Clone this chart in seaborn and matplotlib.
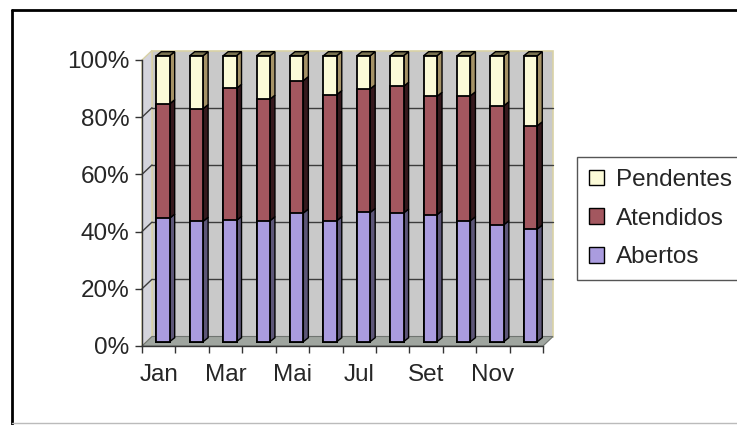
import numpy as np
import pandas as pd
import matplotlib
matplotlib.use("Agg")
import matplotlib.pyplot as plt
import matplotlib.transforms as mtransforms
from matplotlib.patches import Polygon, Patch
from matplotlib.lines import Line2D
import seaborn as sns

# Monthly share of requests by status (%)
meses = ["Jan", "Fev", "Mar", "Abr", "Mai", "Jun",
         "Jul", "Ago", "Set", "Out", "Nov", "Dez"]
abertos = [43.2, 42.1, 42.4, 42.3, 45.0, 42.3, 45.2, 45.0, 44.4, 42.3, 40.9, 39.4]
atendidos = [40.0, 39.4, 46.2, 42.5, 46.3, 44.1, 43.2, 44.3, 41.4, 43.7, 41.6, 36.1]
pendentes = [16.8, 18.5, 11.4, 15.2, 8.7, 13.6, 11.6, 10.7, 14.2, 14.0, 17.5, 24.5]

series = ["Abertos", "Atendidos", "Pendentes"]
y_ticks = [0, 20, 40, 60, 80, 100]
y_labels = ["0%", "20%", "40%", "60%", "80%", "100%"]
x_label_pos = [0, 2, 4, 6, 8, 10]
x_labels = ["Jan", "Mar", "Mai", "Jul", "Set", "Nov"]

face = {"Abertos": "#aa9cdf", "Atendidos": "#a3575f", "Pendentes": "#fcfbd8"}
side = {"Abertos": "#5d5678", "Atendidos": "#36191d", "Pendentes": "#a59266"}

sns.set_style("white")
plt.rcParams["font.family"] = ["Liberation Sans", "DejaVu Sans"]

# table with stacked bounds
df = pd.DataFrame({"mes": meses, "Abertos": abertos,
                   "Atendidos": atendidos, "Pendentes": pendentes})
tot = df[series].sum(axis=1)
for s in series:
    df[s] = df[s] / tot * 100
df["top_Abertos"] = df["Abertos"]
df["top_Atendidos"] = df["Abertos"] + df["Atendidos"]
df["top_Pendentes"] = df["top_Atendidos"] + df["Pendentes"]
df["lo_Abertos"] = 0.0
df["lo_Atendidos"] = df["top_Abertos"]
df["lo_Pendentes"] = df["top_Atendidos"]

W, H, DPI = 737, 425, 100
fig = plt.figure(figsize=(W / DPI, H / DPI), dpi=DPI)
fig.patch.set_facecolor("white")

# axes = front plane of the 3-D box
ax = fig.add_axes([142 / W, (H - 346) / H, 401 / W, 286 / H])
ax.patch.set_visible(False)

BAR_W = 0.4
bar_tr = mtransforms.offset_copy(ax.transData, fig=fig, x=4.3, y=4.3, units="dots")

# stacked bars: draw cumulative tops from the highest layer down
for s in reversed(series):
    n0 = len(ax.patches)
    sns.barplot(data=df, x="mes", y=f"top_{s}", order=meses, color=face[s],
                width=BAR_W, edgecolor="black", linewidth=1.3, saturation=1,
                errorbar=None, ax=ax, zorder=5)
    for p in ax.patches[n0:]:
        p.set_transform(bar_tr)
        p.set_clip_on(False)

ax.set_xlim(-0.5, 11.5)
ax.set_ylim(0, 100)

# pixel -> data unit conversion on the front plane
o = ax.transData.transform((0, 0))
ux = ax.transData.transform((1, 0))[0] - o[0]
uy = ax.transData.transform((0, 1))[1] - o[1]

# walls and floor
wdx, wdy = 10 / ux, 9.5 / uy
x0, x1 = -0.5, 11.5
back = Polygon([(x0 + wdx, wdy), (x1 + wdx, wdy), (x1 + wdx, 100 + wdy), (x0 + wdx, 100 + wdy)],
               closed=True, facecolor="#c9c9c9", edgecolor="#d9d2a6", linewidth=1.2,
               zorder=0, clip_on=False)
left_wall = Polygon([(x0, 0), (x0 + wdx, wdy), (x0 + wdx, 100 + wdy), (x0, 100)],
                    closed=True, facecolor="#d4d4dc", edgecolor="#d9d2a6", linewidth=1.0,
                    zorder=0.5, clip_on=False)
floor = Polygon([(x0, 0), (x1, 0), (x1 + wdx, wdy), (x0 + wdx, wdy)],
                closed=True, facecolor="#9fa59f", edgecolor="#6f7470", linewidth=0.8,
                zorder=1, clip_on=False)
for p in (back, left_wall, floor):
    ax.add_patch(p)

for yv in y_ticks[1:-1]:
    ax.plot([x0 + wdx, x1 + wdx], [yv + wdy, yv + wdy], color="#3c3c3c", lw=1.0,
            zorder=2, clip_on=False)
    ax.plot([x0, x0 + wdx], [yv, yv + wdy], color="#3c3c3c", lw=1.0,
            zorder=2, clip_on=False)

# 3-D side and top faces of the bars
bdx, bdy = 5 / ux, 4 / uy
for i in range(len(meses)):
    xl, xr = i - BAR_W / 2, i + BAR_W / 2
    for s in series:
        lo, hi = df.loc[i, f"lo_{s}"], df.loc[i, f"top_{s}"]
        ax.add_patch(Polygon([(xr, lo), (xr + bdx, lo + bdy), (xr + bdx, hi + bdy), (xr, hi)],
                             closed=True, facecolor=side[s], edgecolor="black",
                             linewidth=1.0, transform=bar_tr, zorder=4, clip_on=False))
    top = df.loc[i, "top_Pendentes"]
    ax.add_patch(Polygon([(xl, top), (xl + bdx, top + bdy), (xr + bdx, top + bdy), (xr, top)],
                         closed=True, facecolor="#7a7350", edgecolor="black",
                         linewidth=1.0, transform=bar_tr, zorder=4, clip_on=False))

# axes, ticks and labels
sns.despine(ax=ax, top=True, right=True)
for sp in ("left", "bottom"):
    ax.spines[sp].set_color("#333333")
    ax.spines[sp].set_linewidth(1.0)
    ax.spines[sp].set_zorder(3)
ax.set_yticks(y_ticks, labels=y_labels)
ax.set_xticks(x_label_pos, labels=x_labels)
ax.set_xticks(np.arange(-0.5, 12, 1.0), minor=True)
ax.tick_params(axis="y", length=5, width=1, direction="out", color="#333333",
               pad=4, labelsize=17.5, left=True)
ax.tick_params(axis="x", which="major", length=0, pad=13, labelsize=17.5)
ax.tick_params(axis="x", which="minor", length=5, width=1, direction="out",
               color="#333333", bottom=True)
ax.set_xlabel("")
ax.set_ylabel("")

# legend
handles = [Patch(facecolor=face[s], edgecolor="black", linewidth=1.0, label=s)
           for s in reversed(series)]
leg = ax.legend(handles=handles, loc="upper left",
                bbox_to_anchor=(577 / W, 1 - 157 / H), bbox_transform=fig.transFigure,
                frameon=True, fancybox=False, edgecolor="#555555", framealpha=1,
                borderaxespad=0, handlelength=0.62, handleheight=0.62,
                handletextpad=0.5, labelspacing=0.68, borderpad=0.5, fontsize=17.5)
leg.get_frame().set_linewidth(1.0)

# chart-area frame
fig.add_artist(Line2D([12 / W, 12 / W], [0, 1 - 10 / H], color="black", lw=2,
                      transform=fig.transFigure))
fig.add_artist(Line2D([12 / W, 1], [1 - 10 / H, 1 - 10 / H], color="black", lw=2,
                      transform=fig.transFigure))
fig.add_artist(Line2D([12 / W, 1], [1 - 423 / H, 1 - 423 / H], color="#bbbbbb", lw=1,
                      transform=fig.transFigure))

fig.savefig("out.png", dpi=DPI, facecolor="white")
